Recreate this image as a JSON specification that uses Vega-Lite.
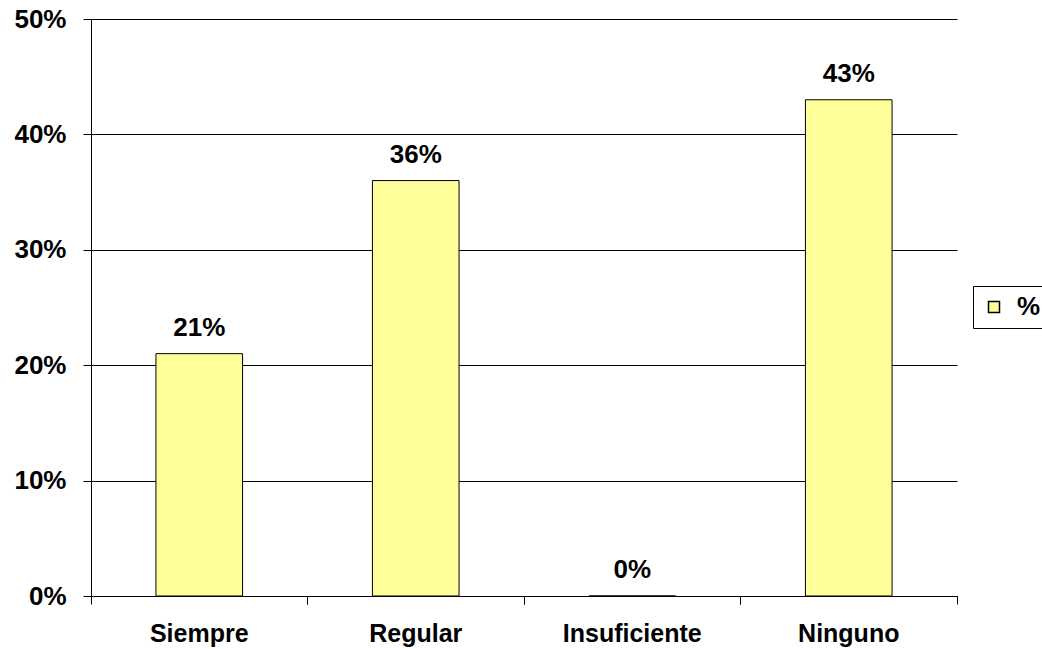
{
  "$schema": "https://vega.github.io/schema/vega-lite/v6.json",
  "width": 866,
  "height": 577,
  "autosize": {"type": "none"},
  "padding": {"left": 91, "top": 19, "right": 85, "bottom": 53},
  "background": "white",
  "config": {
    "view": {"stroke": null},
    "font": "Liberation Sans",
    "axis": {"labelFont": "Liberation Sans", "labelFontWeight": "bold", "labelFontSize": 26, "labelColor": "black", "domainColor": "black", "tickColor": "black", "domainWidth": 1, "tickWidth": 1}
  },
  "data": {"values": [
    {"cat": "Siempre", "v": 0.21, "serie": "%"},
    {"cat": "Regular", "v": 0.36, "serie": "%"},
    {"cat": "Insuficiente", "v": 0.0, "serie": "%"},
    {"cat": "Ninguno", "v": 0.43, "serie": "%"}
  ]},
  "resolve": {"axis": {"x": "independent"}},
  "layer": [
    {
      "mark": {"type": "bar", "width": {"band": 0.4}, "stroke": "black", "strokeWidth": 1},
      "encoding": {
        "x": {"field": "cat", "type": "nominal", "sort": null,
              "scale": {"paddingInner": 0, "paddingOuter": 0},
              "axis": {"title": null, "orient": "bottom", "labelAngle": 0, "ticks": false, "labelPadding": 25, "labelFontSize": 25, "domain": true}},
        "y": {"field": "v", "type": "quantitative",
              "scale": {"domain": [0, 0.5], "nice": false},
              "axis": {"title": null, "format": ".0%", "values": [0, 0.1, 0.2, 0.3, 0.4, 0.5], "grid": true, "gridColor": "black", "gridOpacity": 1, "gridWidth": 1, "tickSize": 8, "labelPadding": 17}},
        "fill": {"field": "serie", "type": "nominal",
                 "scale": {"range": ["#FFFF99"]},
                 "legend": {"title": null, "orient": "none", "legendX": 882, "legendY": 267, "strokeColor": "black", "padding": 8, "symbolOffset": 0, "symbolType": "square", "symbolSize": 121, "symbolStrokeColor": "black", "symbolStrokeWidth": 1.5, "symbolFillColor": "#FFFF99", "labelFont": "Liberation Sans", "labelFontWeight": "bold", "labelFontSize": 26, "labelColor": "black", "labelOffset": 10}}
      }
    },
    {
      "mark": {"type": "text", "baseline": "alphabetic", "dy": -18, "font": "Liberation Sans", "fontWeight": "bold", "fontSize": 26, "color": "black"},
      "encoding": {
        "x": {"field": "cat", "type": "nominal", "sort": null,
              "axis": {"title": null, "orient": "bottom", "bandPosition": 0, "labels": false, "domain": false, "ticks": true, "tickSize": 8}},
        "y": {"field": "v", "type": "quantitative"},
        "text": {"field": "v", "type": "quantitative", "format": ".0%"}
      }
    },
    {
      "mark": {"type": "text", "opacity": 0},
      "encoding": {
        "x": {"field": "cat", "type": "nominal", "sort": null,
              "axis": {"title": null, "orient": "bottom", "bandPosition": 1, "labels": false, "domain": false, "ticks": true, "tickSize": 8}},
        "y": {"field": "v", "type": "quantitative"},
        "text": {"value": ""}
      }
    }
  ]
}
